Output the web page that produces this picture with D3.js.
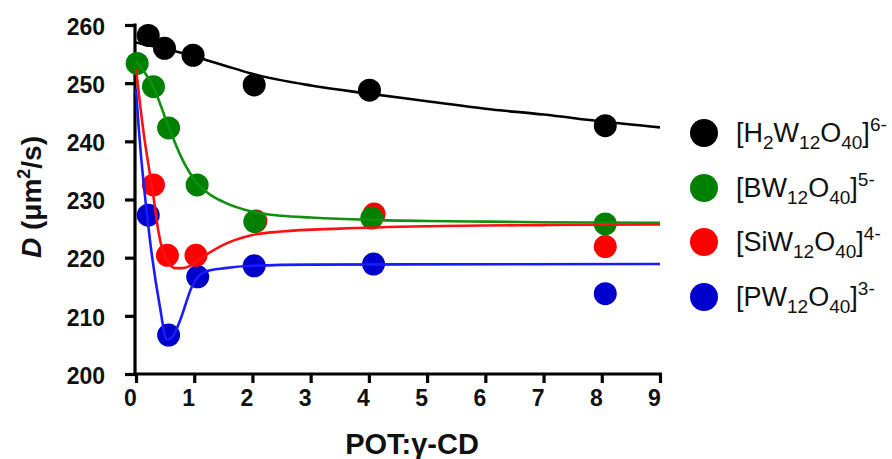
<!DOCTYPE html>
<html><head><meta charset="utf-8">
<script src="https://cdn.jsdelivr.net/npm/d3@7"></script>
<style>body{margin:0;background:#fff}svg{display:block}</style>
</head><body>
<svg id="c" width="892" height="459"></svg>
<script>
// ---- data ----
const xTicks = [0,1,2,3,4,5,6,7,8,9];
const yTicks = [200,210,220,230,240,250,260];
const seriesNames = ["H2W12O40","BW12O40","SiW12O40","PW12O40"];
const seriesColors = ["#000000","#008000","#ff0000","#0000cc"];
const lineColors = ["#000000","#109010","#ff1010","#1a1aff"];
// measured points
const xH = [0.21,0.49,0.98,2.03,4.01,8.06];
const yH = [258.2,256.0,254.8,249.7,248.8,242.7];
const xB = [0.02,0.30,0.56,1.05,2.04,4.05,8.06];
const yB = [253.4,249.4,242.3,232.5,226.2,226.8,225.8];
const xSi = [0.30,0.54,1.03,2.06,4.09,8.06];
const ySi = [232.5,220.4,220.4,226.3,227.5,221.9];
const xP = [0.21,0.56,1.06,2.03,4.08,8.06];
const yP = [227.3,206.7,216.7,218.6,218.9,213.8];
// fitted curves
const cxH = [0,0.5,1,1.5,2,3,4,5,6,7,8,9];
const cyH = [257.0,255.9,254.6,253.1,251.6,249.6,248.2,246.9,245.6,244.6,243.4,242.4];
const cxB = [0,0.3,0.56,0.8,1.04,1.25,1.5,2,2.5,3,4,5,6,7,9];
const cyB = [253.8,249.3,242.5,236.8,232.9,231.0,229.6,227.9,227.2,226.9,226.5,226.3,226.2,226.1,226.0];
const cxSi = [0,0.125,0.3,0.38,0.45,0.55,0.67,0.8,0.93,1.1,1.5,2,2.5,3.5,5,7,9];
const cySi = [252.5,241.9,230.5,224.8,221.5,219.3,218.2,218.2,218.6,219.8,222.2,223.9,224.5,225.0,225.4,225.6,225.7];
const cxP = [0,0.05,0.24,0.41,0.53,0.62,0.76,0.96,1.19,1.53,2,3,9];
const cyP = [249.0,241.9,223.0,211.6,205.9,206.3,209.3,215.0,217.6,218.2,218.6,218.8,218.9];

const pts = [[xH,yH],[xB,yB],[xSi,ySi],[xP,yP]];
const curves = [[cxH,cyH],[cxB,cyB],[cxSi,cySi],[cxP,cyP]];
// legend label parts: [text, kind] kind: n normal, b sub, p sup
const legendParts = [
  [["[H","n"],["2","b"],["W","n"],["12","b"],["O","n"],["40","b"],["]","n"],["6-","p"]],
  [["[BW","n"],["12","b"],["O","n"],["40","b"],["]","n"],["5-","p"]],
  [["[SiW","n"],["12","b"],["O","n"],["40","b"],["]","n"],["4-","p"]],
  [["[PW","n"],["12","b"],["O","n"],["40","b"],["]","n"],["3-","p"]]
];

const FONT = "'Liberation Sans', Arial, Helvetica, sans-serif";
const svg = d3.select("#c");
const x = d3.scaleLinear().domain([0,9]).range([136,660]);
const y = d3.scaleLinear().domain([200,260]).range([374,25]);

// axes
const gx = svg.append("g").attr("transform","translate(0,374)")
  .call(d3.axisBottom(x).tickValues(xTicks).tickSize(9).tickSizeOuter(0).tickFormat(d3.format("d")));
const gy = svg.append("g").attr("transform","translate(135,0)")
  .call(d3.axisLeft(y).tickValues(yTicks).tickSize(10).tickSizeOuter(0).tickFormat(d3.format("d")));
[gx,gy].forEach(g=>{
  g.select(".domain").attr("stroke","#000").attr("stroke-width",3.2);
  g.selectAll(".tick line").attr("stroke","#000").attr("stroke-width",3.2);
  g.selectAll(".tick text").attr("fill","#111").style("font-family",FONT)
    .style("font-size","23px").style("font-weight","bold");
});
gx.select(".domain").attr("d","M133.5,0H662");
gy.select(".domain").attr("d","M0,23.5V375.5");
gx.selectAll(".tick text").attr("y",16).attr("dx",-6).attr("dy","0.71em");
gy.selectAll(".tick text").attr("x",-30).attr("dy","0.4em");

// points
const order = [3,2,1,0];
order.forEach(i=>{
  const [xs,ys] = pts[i];
  svg.append("g").selectAll("circle").data(xs.map((v,k)=>[v,ys[k]])).join("circle")
    .attr("cx",d=>x(d[0])).attr("cy",d=>y(d[1])).attr("r",11.5)
    .attr("fill",seriesColors[i]);
});
// curves
const line = d3.line().x(d=>x(d[0])).y(d=>y(d[1])).curve(d3.curveMonotoneX);
order.forEach(i=>{
  const [cx,cy] = curves[i];
  svg.append("path").datum(cx.map((v,k)=>[v,cy[k]]))
    .attr("d",line).attr("fill","none").attr("stroke",lineColors[i]).attr("stroke-width",2.6);
});

// axis titles
svg.append("text").attr("x",412).attr("y",454).attr("text-anchor","middle")
  .style("font-family",FONT).style("font-size","29px").style("font-weight","bold").attr("fill","#111")
  .text("POT:\u03b3-CD");
const yt = svg.append("text").attr("transform","translate(41,197) rotate(-90)").attr("text-anchor","middle")
  .style("font-family",FONT).style("font-size","28px").style("font-weight","bold").attr("fill","#111");
yt.append("tspan").style("font-style","italic").text("D");
yt.append("tspan").text(" (\u03bcm");
yt.append("tspan").attr("dy",-11).style("font-size","18px").text("2");
yt.append("tspan").attr("dy",11).text("/s)");

// legend
const ly = [133,188,242,297];
seriesNames.forEach((n,i)=>{
  svg.append("circle").attr("cx",704).attr("cy",ly[i]).attr("r",14).attr("fill",seriesColors[i]);
  const t = svg.append("text").attr("x",736).attr("y",ly[i]+9)
    .style("font-family",FONT).style("font-size","27px").attr("fill","#111");
  let cur = 0;
  legendParts[i].forEach(([s,k])=>{
    let target = k==="b"?7:(k==="p"?-11:0);
    const ts = t.append("tspan").attr("dy",target-cur).text(s);
    if(k!=="n") ts.style("font-size","19px");
    cur = target;
  });
});
</script>
</body></html>
